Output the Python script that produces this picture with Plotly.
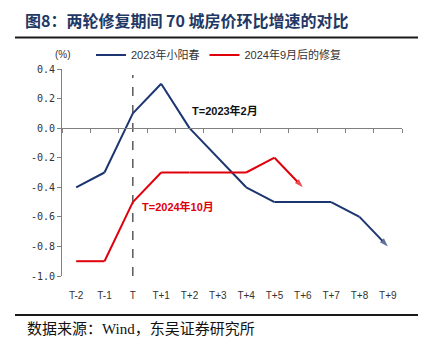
import plotly.graph_objects as go

categories = ["T-2", "T-1", "T", "T+1", "T+2", "T+3", "T+4", "T+5", "T+6", "T+7", "T+8", "T+9"]
series_2023 = [-0.4, -0.3, 0.1, 0.3, 0.0, -0.2, -0.4, -0.5, -0.5, -0.5, -0.6, -0.8]
series_2024 = [-0.9, -0.9, -0.5, -0.3, -0.3, -0.3, -0.3, -0.2, -0.4]
y_ticks = [-1.0, -0.8, -0.6, -0.4, -0.2, 0.0, 0.2, 0.4]
y_ticktext = ["-1.0", "-0.8", "-0.6", "-0.4", "-0.2", "0.0", "0.2", "0.4"]
name_2023 = "2023年小阳春"
name_2024 = "2024年9月后的修复"
title_text = "图8：两轮修复期间 70 城房价环比增速的对比"
source_text = "数据来源：Wind，东吴证券研究所"
label_2023 = "T=2023年2月"
label_2024 = "T=2024年10月"
marker_category = "T"
marker_span = [-1.0, 0.36]

BLUE = "#1c3570"
RED = "#e0000b"
GRAY = "#808080"
CJK = "Liberation Sans, Noto Sans CJK SC, sans-serif"

Y0, Y1 = -1.0, 0.4
L, R, T, B = 62, 24, 69, 77
W, H = 426, 353
PW, PH = W - L - R, H - T - B


def px_x(p):
    return (p - L) / PW


def px_y(p):
    return (H - B - p) / PH


def arrow_sizes(n):
    return [0] * (n - 1) + [9]


fig = go.Figure()

fig.add_trace(go.Scatter(
    x=[marker_category, marker_category], y=marker_span, mode="lines",
    line=dict(color="#404040", width=1.3, dash="dash"),
    showlegend=False, hoverinfo="skip"))

fig.add_trace(go.Scatter(
    x=categories[:len(series_2023)], y=series_2023, name=name_2023,
    mode="lines+markers",
    line=dict(color=BLUE, width=2),
    marker=dict(symbol="arrow", angleref="previous", size=arrow_sizes(len(series_2023)),
                color=BLUE, line=dict(width=0))))

fig.add_trace(go.Scatter(
    x=categories[:len(series_2024)], y=series_2024, name=name_2024,
    mode="lines+markers",
    line=dict(color=RED, width=2),
    marker=dict(symbol="arrow", angleref="previous", size=arrow_sizes(len(series_2024)),
                color=RED, line=dict(width=0))))

zero_pos = (0 - Y0) / (Y1 - Y0)
boundaries = [i - 0.5 for i in range(len(categories) + 1)]

fig.update_layout(
    width=W, height=H,
    margin=dict(l=L, r=R, t=T, b=B),
    paper_bgcolor="white", plot_bgcolor="white",
    font=dict(family=CJK, color="#333333", size=11),
    showlegend=True,
    legend=dict(orientation="h", x=px_x(91), y=px_y(55), xanchor="left", yanchor="middle",
                font=dict(size=11, color="#333333"), itemwidth=30,
                bgcolor="rgba(0,0,0,0)", traceorder="normal"),
    title=dict(text="<b>" + title_text + "</b>", x=25 / W, xanchor="left",
               y=1 - 21 / H, yanchor="middle",
               font=dict(family="Noto Sans CJK SC, sans-serif", size=16, color="#1f3864")),
    xaxis=dict(type="category", categoryarray=categories, range=[-0.5, len(categories) - 0.5],
               showline=False, showgrid=False, zeroline=False, ticks="",
               ticklabelstandoff=12,
               tickfont=dict(size=10, family="Liberation Sans, sans-serif", color="#333333"),
               fixedrange=True),
    xaxis2=dict(overlaying="x", anchor="free", position=zero_pos, side="bottom",
                range=[-0.5, len(categories) - 0.5], showline=True, linecolor=GRAY,
                linewidth=1, ticks="outside", ticklen=4, tickcolor=GRAY,
                tickmode="array", tickvals=boundaries, showticklabels=False,
                showgrid=False, zeroline=False),
    yaxis=dict(range=[Y0, Y1], tickmode="array", tickvals=y_ticks, ticktext=y_ticktext,
               showline=True, linecolor=GRAY, linewidth=1, ticks="outside", ticklen=4,
               tickcolor=GRAY, showgrid=False, zeroline=False,
               tickfont=dict(size=10, family="DejaVu Sans Mono, monospace", color="#333333")),
)

# dummy trace to activate xaxis2
fig.add_trace(go.Scatter(x=[None], y=[None], xaxis="x2", showlegend=False, hoverinfo="skip"))

fig.add_annotation(text="(%)", xref="paper", yref="paper", x=px_x(63), y=px_y(55),
                   xanchor="center", yanchor="middle", showarrow=False,
                   font=dict(size=10, color="#333333"))
fig.add_annotation(text="<b>" + label_2023 + "</b>", x=4.0, y=0.12, xref="x", yref="y",
                   xanchor="left", yanchor="middle", showarrow=False,
                   font=dict(size=11, color="#111111", family=CJK))
fig.add_annotation(text="<b>" + label_2024 + "</b>", x=2.25, y=-0.533, xref="x", yref="y",
                   xanchor="left", yanchor="middle", showarrow=False,
                   font=dict(size=11, color=RED, family=CJK))
fig.add_annotation(text=source_text, xref="paper", yref="paper", x=px_x(25), y=px_y(329),
                   xanchor="left", yanchor="middle", showarrow=False,
                   font=dict(size=15, color="#111111",
                             family="Liberation Serif, Noto Sans CJK SC, serif"))

fig.add_shape(type="line", xref="paper", yref="paper", x0=px_x(15), x1=px_x(418),
              y0=px_y(37.5), y1=px_y(37.5), line=dict(color="#1a1a1a", width=2))
fig.add_shape(type="line", xref="paper", yref="paper", x0=px_x(15), x1=px_x(418),
              y0=px_y(315), y1=px_y(315), line=dict(color="#1a1a1a", width=2))

fig.write_html("out.html")
